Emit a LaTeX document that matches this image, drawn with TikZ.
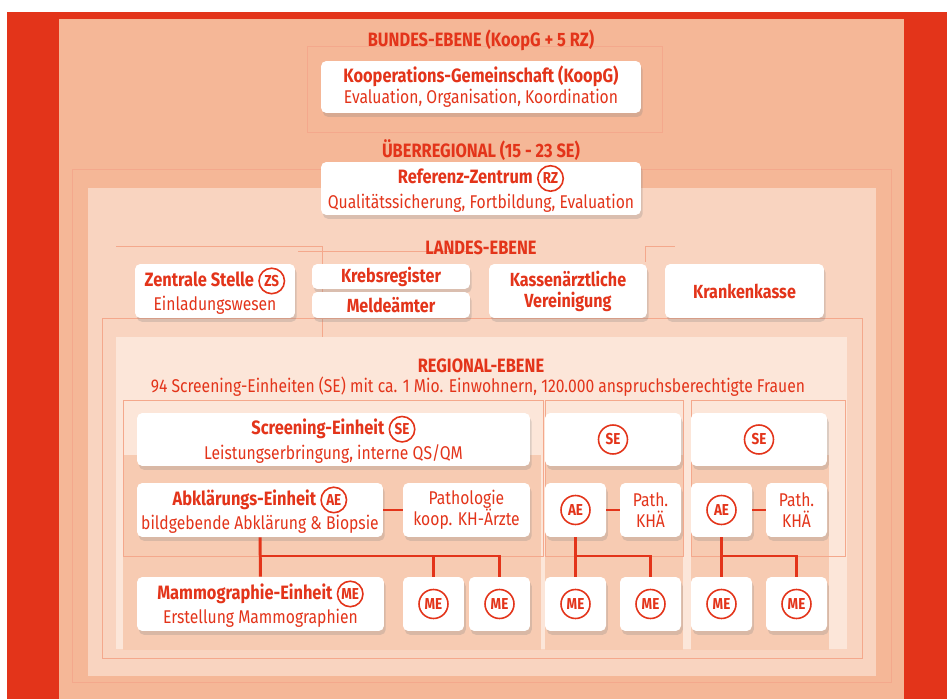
\documentclass[tikz,border=0pt]{standalone}
\usepackage{fontspec}
\setmainfont{Fira Sans}[FakeStretch=0.85]
\usetikzlibrary{shadows,positioning,calc}

\definecolor{rot}{HTML}{E3341A}
\definecolor{lachs}{HTML}{F5B797}
\definecolor{hell}{HTML}{F9D4C0}
\definecolor{ganzhell}{HTML}{FCE6D9}
\definecolor{linie}{HTML}{F4A88C}
\definecolor{spalte}{HTML}{F7CBB2}

\newcommand{\abk}[1]{\tikz[baseline=(k.base)]\node[abkreis](k){#1};}
\newcommand{\abkgross}[1]{\tikz[baseline=(k.base)]\node[abkreis,minimum size=16.5pt](k){#1};}
\newcommand{\titel}[1]{{\bfseries\fontsize{11}{12}\selectfont #1}}

\tikzset{
  kasten/.style={fill=white, rounded corners=3pt, text=rot, align=center,
    inner sep=0pt, font=\fontsize{10.5}{12}\selectfont,
    drop shadow={opacity=0.25, shadow xshift=1pt, shadow yshift=-2.2pt}},
  ebene/.style={text=rot, font=\bfseries\fontsize{11}{12}\selectfont},
  hilfslinie/.style={draw=linie, line width=0.35pt},
  verbindung/.style={draw=rot, line width=1.7pt},
  abkreis/.style={circle, draw=rot, line width=0.9pt, inner sep=0pt,
    minimum size=14.5pt, text=rot, font=\bfseries\fontsize{9}{10}\selectfont},
}

\begin{document}
\begin{tikzpicture}[x=0.02cm,y=-0.02cm]
\useasboundingbox (0,0) rectangle (947,699);

% Hintergrund
\fill[rot] (7,12) rectangle (947,699);
\fill[lachs] (59,19) rectangle (904,699);
\draw[hilfslinie] (307,46) rectangle (662,132);
\draw[hilfslinie] (72,169) rectangle (891,682);
\fill[hell] (88,188) rectangle (876,676);
\draw[hilfslinie] (116,246) -- (322,246) -- (322,340);
\draw[hilfslinie] (298,251) -- (470,251);
\draw[hilfslinie] (645,262) -- (645,246) -- (675,246);
\draw[hilfslinie] (102,318) rectangle (862,658);
\fill[ganzhell] (116,337) rectangle (847,649);
\fill[spalte] (123,455) rectangle (541,650);
\fill[spalte] (545,455) rectangle (683,650);
\fill[spalte] (691,455) rectangle (829,650);
\draw[hilfslinie] (123,400) rectangle (543,556);
\draw[hilfslinie] (545,400) rectangle (683,556);
\draw[hilfslinie] (691,400) rectangle (845,556);

% Bundesebene
\node[ebene] (bundlabel) at (481,40) {BUNDES-EBENE (KoopG + 5 RZ)};
\node[kasten, minimum width=6.4cm, minimum height=1.04cm] (koopg) at (481,87)
  {\titel{Kooperations-Gemeinschaft (KoopG)}\\Evaluation, Organisation, Koordination};

% Ueberregional
\node[ebene] (uelabel) at (481,150) {ÜBERREGIONAL (15 - 23 SE)};
\node[kasten, minimum width=6.4cm, minimum height=1.06cm] (rz) at (481,188.5)
  {\titel{Referenz-Zentrum} \abk{RZ}\\Qualitätssicherung, Fortbildung, Evaluation};

% Landesebene
\node[ebene] (landlabel) at (481,248) {LANDES-EBENE};
\node[kasten, minimum width=3.2cm, minimum height=1.08cm] (zs) at (215,291)
  {\titel{Zentrale Stelle} \abk{ZS}\\Einladungswesen};
\node[kasten, minimum width=3.16cm, minimum height=0.5cm, font=\bfseries\fontsize{10.8}{12}\selectfont] (krebs) at (391,276.5) {Krebsregister};
\node[kasten, minimum width=3.16cm, minimum height=0.52cm, font=\bfseries\fontsize{10.8}{12}\selectfont] (melde) at (391,305) {Meldeämter};
\node[kasten, minimum width=3.16cm, minimum height=1.08cm, font=\bfseries\fontsize{10.8}{12}\selectfont] (kv) at (568,291) {Kassenärztliche\\Vereinigung};
\node[kasten, minimum width=3.18cm, minimum height=1.08cm, font=\bfseries\fontsize{10.8}{12}\selectfont] (kk) at (744.5,291) {Krankenkasse};

% Regionalebene
\node[ebene] (reglabel) at (481,366) {REGIONAL-EBENE};
\node[text=rot, font=\fontsize{10.5}{12}\selectfont] (regtext) at (478,387)
  {94 Screening-Einheiten (SE) mit ca. 1 Mio. Einwohnern, 120.000 anspruchsberechtigte Frauen};

\node[kasten, minimum width=7.86cm, minimum height=1.06cm] (se) at (333.5,439.5)
  {\titel{Screening-Einheit} \abk{SE}\\Leistungserbringung, interne QS/QM};
\node[kasten, minimum width=2.72cm, minimum height=1.06cm] (se2) at (613,439.5) {\abkgross{SE}};
\node[kasten, minimum width=2.72cm, minimum height=1.06cm] (se3) at (759,439.5) {\abkgross{SE}};

\node[kasten, minimum width=4.92cm, minimum height=1.08cm] (ae) at (260,510)
  {\titel{Abklärungs-Einheit} \abk{AE}\\bildgebende Abklärung \& Biopsie};
\node[kasten, minimum width=2.54cm, minimum height=1.08cm] (path) at (466.5,510)
  {Pathologie\\koop. KH-Ärzte};
\node[kasten, minimum width=1.22cm, minimum height=1.08cm] (ae2) at (575.5,510) {\abkgross{AE}};
\node[kasten, minimum width=1.22cm, minimum height=1.08cm] (path2) at (650.5,510) {Path.\\KHÄ};
\node[kasten, minimum width=1.22cm, minimum height=1.08cm] (ae3) at (721.5,510) {\abkgross{AE}};
\node[kasten, minimum width=1.22cm, minimum height=1.08cm] (path3) at (796.5,510) {Path.\\KHÄ};

\node[kasten, minimum width=4.94cm, minimum height=1.08cm] (me) at (260.5,604)
  {\titel{Mammographie-Einheit} \abk{ME}\\Erstellung Mammographien};
\foreach \n/\x in {me2/433.5, me3/499.5, me4/575.5, me5/650.5, me6/721.5, me7/796.5}
  \node[kasten, minimum width=1.22cm, minimum height=1.08cm] (\n) at (\x,604) {\abkgross{ME}};

% Verbindungen
\draw[verbindung] (ae) -- (path);
\draw[verbindung] (ae2) -- (path2);
\draw[verbindung] (ae3) -- (path3);
\coordinate (v1) at (260,556);
\coordinate (v2) at (575.5,556);
\coordinate (v3) at (721.5,556);
\draw[verbindung] (ae) -- (me);
\draw[verbindung] (v1) -| (me2.north);
\draw[verbindung] (v1) -| (me3.north);
\draw[verbindung] (ae2) -- (me4);
\draw[verbindung] (v2) -| (me5.north);
\draw[verbindung] (ae3) -- (me6);
\draw[verbindung] (v3) -| (me7.north);
\end{tikzpicture}
\end{document}
